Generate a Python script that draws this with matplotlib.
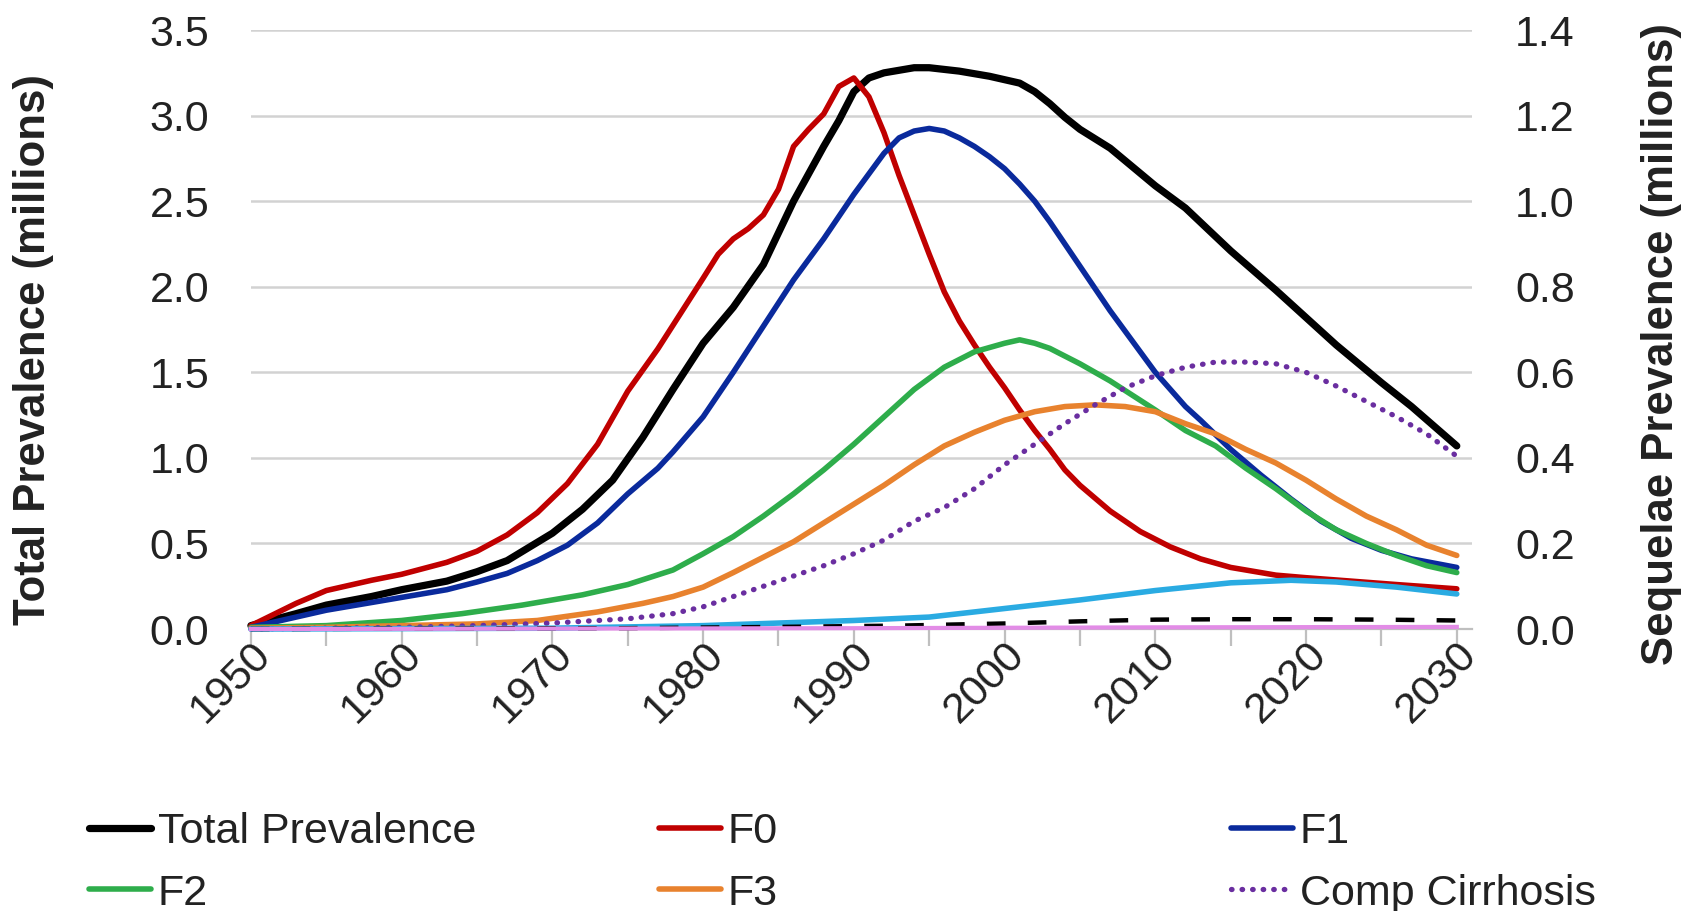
import matplotlib
matplotlib.use('Agg')
import matplotlib.pyplot as plt
import numpy as np

plt.rcParams['font.family'] = ['Liberation Sans', 'DejaVu Sans']

# %% data -- total on the left axis, sequelae (millions) on the right axis
total_years = [1950, 1953, 1955, 1958, 1960, 1963, 1965, 1967, 1970, 1972, 1974, 1976, 1977, 1978,
               1980, 1982, 1984, 1986, 1988, 1989, 1990, 1991, 1992, 1994, 1995, 1997, 1999, 2001,
               2002, 2003, 2004, 2005, 2007, 2010, 2012, 2015, 2018, 2020, 2022, 2025, 2027, 2030]
total_vals = [0.02, 0.09, 0.14, 0.19, 0.23, 0.28, 0.335, 0.40, 0.56, 0.70, 0.87, 1.12, 1.26, 1.40,
              1.67, 1.88, 2.13, 2.50, 2.82, 2.97, 3.14, 3.22, 3.25, 3.28, 3.28, 3.26, 3.23, 3.19,
              3.14, 3.07, 2.99, 2.92, 2.81, 2.59, 2.46, 2.21, 1.98, 1.82, 1.66, 1.44, 1.30, 1.07]

f0_years = [1950, 1953, 1955, 1958, 1960, 1963, 1965, 1967, 1969, 1971, 1973, 1975, 1977, 1978,
            1980, 1981, 1982, 1983, 1984, 1985, 1986, 1987, 1988, 1989, 1990, 1991, 1992, 1993,
            1994, 1995, 1996, 1997, 1998, 1999, 2000, 2001, 2002, 2003, 2004, 2005, 2007, 2009,
            2011, 2013, 2015, 2018, 2020, 2023, 2026, 2030]
f0_vals = [0.008, 0.06, 0.09, 0.114, 0.128, 0.156, 0.182, 0.22, 0.272, 0.34, 0.432, 0.556, 0.655,
           0.71, 0.82, 0.876, 0.912, 0.936, 0.968, 1.028, 1.128, 1.168, 1.204, 1.268, 1.288,
           1.244, 1.16, 1.06, 0.968, 0.876, 0.788, 0.72, 0.664, 0.612, 0.564, 0.512, 0.464, 0.42,
           0.372, 0.336, 0.276, 0.228, 0.192, 0.164, 0.144, 0.126, 0.12, 0.112, 0.104, 0.094]

f1_years = [1950, 1953, 1955, 1958, 1960, 1963, 1965, 1967, 1969, 1971, 1973, 1975, 1977, 1978,
            1980, 1982, 1984, 1986, 1988, 1990, 1992, 1993, 1994, 1995, 1996, 1997, 1998, 1999,
            2000, 2001, 2002, 2003, 2004, 2005, 2007, 2009, 2010, 2011, 2012, 2013, 2015, 2017,
            2019, 2021, 2023, 2025, 2027, 2030]
f1_vals = [0.004, 0.028, 0.044, 0.062, 0.074, 0.092, 0.11, 0.13, 0.16, 0.196, 0.248, 0.316, 0.376,
           0.414, 0.496, 0.60, 0.708, 0.816, 0.912, 1.016, 1.112, 1.148, 1.164, 1.17, 1.164,
           1.148, 1.128, 1.104, 1.076, 1.04, 1.00, 0.952, 0.90, 0.848, 0.744, 0.648, 0.60, 0.56,
           0.52, 0.488, 0.42, 0.36, 0.304, 0.252, 0.212, 0.184, 0.164, 0.144]

f2_years = [1950, 1955, 1960, 1964, 1968, 1972, 1975, 1978, 1980, 1982, 1984, 1986, 1988, 1990,
            1992, 1994, 1996, 1998, 2000, 2001, 2002, 2003, 2005, 2007, 2010, 2012, 2014, 2016,
            2018, 2020, 2022, 2024, 2026, 2028, 2030]
f2_vals = [0.004, 0.008, 0.02, 0.036, 0.056, 0.08, 0.104, 0.138, 0.176, 0.216, 0.264, 0.316,
           0.372, 0.432, 0.496, 0.56, 0.612, 0.648, 0.668, 0.676, 0.668, 0.656, 0.62, 0.58, 0.512,
           0.464, 0.428, 0.376, 0.328, 0.276, 0.232, 0.20, 0.172, 0.148, 0.132]

f3_years = [1950, 1955, 1960, 1965, 1969, 1973, 1976, 1978, 1980, 1982, 1984, 1986, 1988, 1990,
            1992, 1994, 1996, 1998, 2000, 2002, 2004, 2006, 2008, 2010, 2012, 2014, 2016, 2018,
            2020, 2022, 2024, 2026, 2028, 2030]
f3_vals = [0.002, 0.004, 0.008, 0.012, 0.02, 0.04, 0.06, 0.076, 0.098, 0.132, 0.168, 0.204, 0.248,
           0.292, 0.336, 0.384, 0.428, 0.46, 0.488, 0.508, 0.52, 0.524, 0.52, 0.508, 0.48, 0.456,
           0.42, 0.388, 0.348, 0.304, 0.264, 0.232, 0.196, 0.172]

cc_years = [1950, 1960, 1965, 1970, 1975, 1978, 1980, 1982, 1984, 1986, 1988, 1990, 1992, 1994,
            1996, 1998, 2000, 2002, 2004, 2006, 2008, 2010, 2012, 2014, 2016, 2018, 2020, 2022,
            2024, 2026, 2028, 2030]
cc_vals = [0.0, 0.004, 0.008, 0.014, 0.024, 0.036, 0.052, 0.076, 0.10, 0.124, 0.148, 0.176, 0.208,
           0.252, 0.284, 0.328, 0.384, 0.432, 0.48, 0.524, 0.564, 0.592, 0.612, 0.624, 0.624,
           0.62, 0.60, 0.568, 0.532, 0.496, 0.456, 0.404]

dc_years = [1950, 1970, 1980, 1985, 1990, 1995, 2000, 2005, 2010, 2015, 2019, 2022, 2026, 2030]
dc_vals = [0.0, 0.002, 0.008, 0.014, 0.02, 0.028, 0.048, 0.068, 0.09, 0.108, 0.114, 0.11, 0.098, 0.082]

hcc_years = [1950, 1975, 1985, 1993, 2000, 2005, 2010, 2015, 2020, 2025, 2030]
hcc_vals = [0.0, 0.002, 0.005, 0.008, 0.013, 0.018, 0.022, 0.023, 0.023, 0.022, 0.02]

ld_years = [1950, 1990, 2010, 2030]
ld_vals = [0.0, 0.002, 0.004, 0.005]

left_ticks = np.arange(0, 3.51, 0.5)
right_ticks = np.arange(0, 1.41, 0.2)
txt = '#222222'
fs = 31

# %% figure
fig = plt.figure(figsize=(17, 9.11), dpi=100)
ax = fig.add_axes([0.1476, 0.3095, 0.7182, 0.6575])
ax2 = ax.twinx()

l_total, = ax.plot(total_years, total_vals, color='black', lw=5.2, zorder=3,
                   solid_capstyle='round', clip_on=False)

kw = dict(lw=4.0, solid_capstyle='round', clip_on=False)
l_f0, = ax2.plot(f0_years, f0_vals, color='#C00000', **kw)
l_f1, = ax2.plot(f1_years, f1_vals, color='#0A2A9C', **kw)
l_f2, = ax2.plot(f2_years, f2_vals, color='#2EAD4B', **kw)
l_f3, = ax2.plot(f3_years, f3_vals, color='#E8822E', **kw)
l_cc, = ax2.plot(cc_years, cc_vals, color='#6A2EA0', lw=3.8, ls=(0, (0.1, 1.9)),
                 dash_capstyle='round', clip_on=False)
ax2.plot(dc_years, dc_vals, color='#2AABE2', **kw)
ax2.plot(hcc_years, hcc_vals, color='black', lw=3.2, ls=(0, (4.2, 5.0)), clip_on=False)
ax2.plot(ld_years, ld_vals, color='#E28CE6', lw=3.0, clip_on=False)

ax.set_xlim(1950, 2031)
ax.set_ylim(0, 3.5)
ax2.set_ylim(0, 1.4)
ax.set_yticks(left_ticks)
ax.set_yticklabels([f'{v:.1f}' for v in left_ticks])
ax2.set_yticks(right_ticks)
ax2.set_yticklabels([f'{v:.1f}' for v in right_ticks])

ax.set_xticks(range(1950, 2031, 10))
ax.set_xticks(range(1955, 2031, 10), minor=True)
ax.set_xticklabels([str(y) for y in range(1950, 2031, 10)], rotation=45, ha='right',
                   va='top', rotation_mode='anchor')

ax.grid(axis='y', color='#D2D2D2', lw=1.8)
ax.set_axisbelow(True)
for s in ['top', 'left', 'right']:
    ax.spines[s].set_visible(False)
for s in ax2.spines.values():
    s.set_visible(False)
ax.spines['bottom'].set_color('#BFBFBF')
ax.spines['bottom'].set_linewidth(1.6)

ax.tick_params(axis='x', which='both', length=12, width=1.6, color='#BFBFBF', pad=-8,
               labelsize=fs, labelcolor=txt)
ax.tick_params(axis='y', length=0, pad=30, labelsize=fs, labelcolor=txt)
ax2.tick_params(axis='y', length=0, pad=31, labelsize=fs, labelcolor=txt)

fig.text(34 / 1700, 1 - 350 / 911, 'Total Prevalence (millions)', rotation=90, ha='center',
         va='center', fontsize=31.5, fontweight='bold', color=txt)
fig.text(1662 / 1700, 1 - 344 / 911, 'Sequelae Prevalence (millions)', rotation=90,
         ha='center', va='center', fontsize=31.5, fontweight='bold', color=txt)

# legend laid out as three fixed columns
cols = [([l_total, l_f2], ['Total Prevalence', 'F2'], 89),
        ([l_f0, l_f3], ['F0', 'F3'], 659),
        ([l_f1, l_cc], ['F1', 'Comp Cirrhosis'], 1231)]
for handles, labels, x in cols:
    fig.legend(handles, labels, loc='upper left', bbox_to_anchor=(x / 1700, 1 - 812 / 911),
               frameon=False, borderpad=0, borderaxespad=0, handlelength=1.45,
               handletextpad=0.15, labelspacing=0.5, fontsize=fs, labelcolor=txt)

fig.savefig('out.png', dpi=100)
